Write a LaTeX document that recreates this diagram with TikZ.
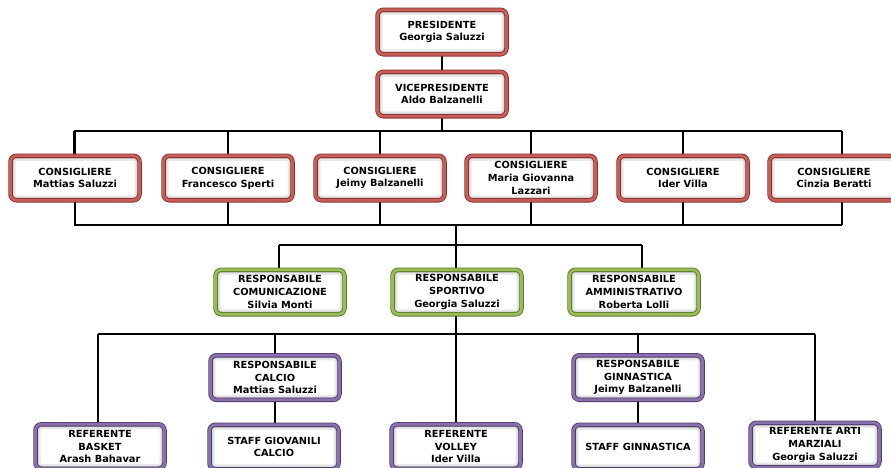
\documentclass[tikz,border=0pt]{standalone}
\usepackage{fontspec}
\setmainfont{DejaVu Sans}
\usetikzlibrary{backgrounds,shadows}
\definecolor{redD}{HTML}{8A2E2B}
\definecolor{redL}{HTML}{C75E5A}
\definecolor{grnD}{HTML}{5E7A25}
\definecolor{grnL}{HTML}{9BBB59}
\definecolor{purD}{HTML}{4E3A6E}
\definecolor{purL}{HTML}{8A70AC}
\begin{document}
\begin{tikzpicture}[x=1pt,y=-1pt,
  box/.style={rounded corners=6pt, draw=#1D, double=#1L, double distance=2.8pt,
    line width=0.85pt, fill=white, minimum width=129pt, minimum height=44.5pt,
    inner sep=1pt, align=center, text=black,
    font=\bfseries\fontsize{9.8}{12.8}\selectfont,
    drop shadow={shadow xshift=1pt, shadow yshift=-1.5pt, opacity=0.35, fill=gray},
    path picture={
      \draw[gray!18, line width=10pt, rounded corners=6pt]
        (path picture bounding box.south west) rectangle (path picture bounding box.north east);
      \draw[gray!40, line width=6pt, rounded corners=6pt]
        (path picture bounding box.south west) rectangle (path picture bounding box.north east);}},
  link/.style={line width=2.2pt, black}]
\useasboundingbox (0,0) rectangle (891,467);
\clip (0,0) rectangle (891,467);
% level 1
\node[box=red] (pres) at (442,32) {PRESIDENTE\\Georgia Saluzzi};
\node[box=red] (vice) at (442,94) {VICEPRESIDENTE\\Aldo Balzanelli};
% consiglieri
\node[box=red] (c1) at (75,178) {CONSIGLIERE\\Mattias Saluzzi};
\node[box=red] (c2) at (228,178) {CONSIGLIERE\\Francesco Sperti};
\node[box=red] (c3) at (380,178) {CONSIGLIERE\\Jeimy Balzanelli};
\node[box=red] (c4) at (531,178) {CONSIGLIERE\\Maria Giovanna\\Lazzari};
\node[box=red] (c5) at (683,178) {CONSIGLIERE\\Ider Villa};
\node[box=red] (c6) at (834,178) {CONSIGLIERE\\Cinzia Beratti};
% responsabili
\node[box=grn] (g1) at (280,292) {RESPONSABILE\\COMUNICAZIONE\\Silvia Monti};
\node[box=grn] (g2) at (457,292) {RESPONSABILE\\SPORTIVO\\Georgia Saluzzi};
\node[box=grn] (g3) at (634,292) {RESPONSABILE\\AMMINISTRATIVO\\Roberta Lolli};
% sport
\node[box=pur] (rc) at (275,377.5) {RESPONSABILE\\CALCIO\\Mattias Saluzzi};
\node[box=pur] (rg) at (638,377.5) {RESPONSABILE\\GINNASTICA\\Jeimy Balzanelli};
\node[box=pur] (rb) at (100,446.5) {REFERENTE\\BASKET\\Arash Bahavar};
\node[box=pur] (sc) at (274,447) {STAFF GIOVANILI\\CALCIO};
\node[box=pur] (rv) at (456,446.5) {REFERENTE\\VOLLEY\\Ider Villa};
\node[box=pur] (sg) at (638,447) {STAFF GINNASTICA};
\node[box=pur] (ra) at (815,445) {REFERENTE ARTI\\MARZIALI\\Georgia Saluzzi};
% bar coordinates
\coordinate (b1L) at (74,131);
\coordinate (b1R) at (842,131);
\coordinate (b2L) at (74,225);
\coordinate (b2R) at (842,225);
\coordinate (b2M) at (456,225);
\coordinate (b3L) at (279,245);
\coordinate (b3R) at (642,245);
\coordinate (b3M) at (456,245);
\coordinate (b4L) at (98,334);
\coordinate (b4R) at (815,334);
\begin{scope}[on background layer]
\draw[link] (pres.south) -- (vice.north);
\draw[link] (vice.south) -- (vice.south |- b1L);
\draw[link] (b1L) -- (b1R);
\draw[link] (b2L) -- (b2R);
\foreach \n in {c1,c2,c3,c4,c5}{
  \draw[link] (\n.north |- b1L) -- (\n.north);
  \draw[link] (\n.south) -- (\n.south |- b2L);
}
\draw[link] (b1L) -- (b1L |- c1.north);
\draw[link] (b1R) -- (b1R |- c6.north);
\draw[link] (b2R) -- (b2R |- c6.south);
\draw[link] (b2M) -- (b3M);
\draw[link] (b3L) -- (b3R);
\draw[link] (b3L) -- (b3L |- g1.north);
\draw[link] (b3M) -- (b3M |- g2.north);
\draw[link] (b3R) -- (b3R |- g3.north);
\draw[link] (b3M |- g2.south) -- (b3M |- b4L);
\draw[link] (b4L) -- (b4R);
\draw[link] (b4L) -- (b4L |- rb.north);
\draw[link] (rc.north |- b4L) -- (rc.north);
\draw[link] (rv.north |- b4L) -- (rv.north);
\draw[link] (rg.north |- b4L) -- (rg.north);
\draw[link] (b4R) -- (b4R |- ra.north);
\draw[link] (rc.south) -- (rc.south |- sc.north);
\draw[link] (rg.south) -- (rg.south |- sg.north);
\end{scope}
\end{tikzpicture}
\end{document}
